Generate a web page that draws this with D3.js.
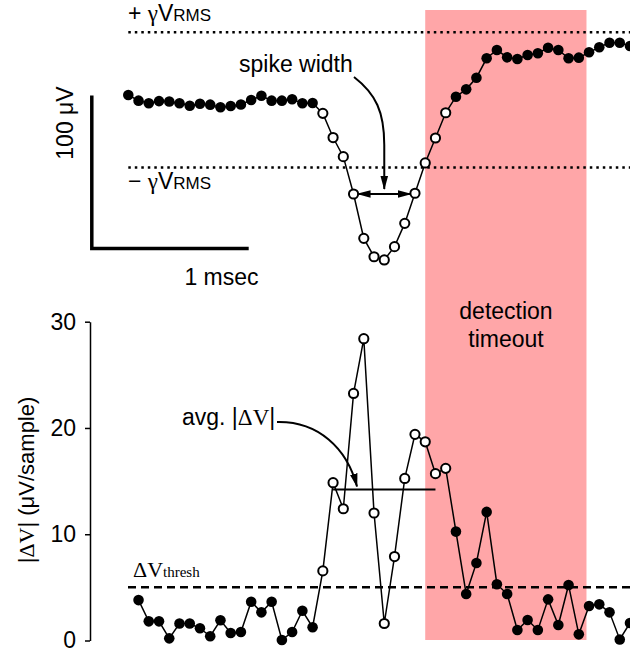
<html>
<head>
    <script src="https://d3js.org/d3.v7.min.js"></script>
    <style>
        body { margin: 0; background: white; }
        text { font-family: "Liberation Sans", Arial, sans-serif; fill: black; }
        .serif { font-family: "Liberation Serif", "Times New Roman", serif; }
    </style>
</head>
<body>
    <svg id="svg" width="630" height="650"></svg>
    <script>
        // raw trace (uV), one sample per point
        const voltage = [3.2, -0.5, -2.2, -0.8, -1.0, -2.2, -3.8, -2.5, -3.1, -4.8,
            -4.0, -3.0, -0.1, 2.7, -0.5, -0.5, 0.4, -2.2, -2.0, -8.8,
            -24.6, -37.1, -61.5, -90.5, -102.5, -104.6, -95.9, -80.7, -61.0, -41.2,
            -24.9, -8.4, 2.1, 6.9, 14.5, 27.2, 32.6, 27.8, 26.7, 29.3,
            30.5, 34.1, 32.6, 27.2, 27.6, 31.1, 34.4, 37.4, 37.4, 35.2];
        // |dV| per sample, starts at sample 1
        const deltaV = [3.8, 1.8, 1.8, 0.2, 1.6, 1.6, 1.15, 0.4, 1.9, 0.7,
            0.8, 3.65, 2.65, 3.65, 0.05, 0.8, 2.8, 1.25, 6.55, 14.85,
            12.4, 23.25, 28.4, 12.0, 1.6, 7.9, 15.25, 19.4, 18.7, 15.7,
            16.2, 10.25, 4.37, 7.3, 12.1, 5.3, 4.37, 0.99, 1.93, 0.99,
            3.87, 1.46, 5.22, 0.58, 3.25, 3.4, 2.65, 0.1, 1.65];
        const spikeSamples = [19, 31];     // open markers (sample index)
        const timeoutSamples = [29, 44.75]; // detection timeout
        const widthSamples = [22, 28];     // spike width arrow
        const avgSamples = [20, 30];
        const gammaVrms = 44.2;
        const dvThresh = 5;
        const avgDV = 14.2;
        const dvTicks = [0, 10, 20, 30];
        const samplesPerMs = 15.5;

        const svg = d3.select('#svg');
        const x = d3.scaleLinear().domain([0, 49]).range([128.3, 630]);
        const yTop = d3.scaleLinear().domain([0, 100]).range([99.9, -53.1]);
        const yBot = d3.scaleLinear().domain([0, 30]).range([640.5, 321.7]);
        const fs = "23px";

        const defs = svg.append("defs");
        defs.append("marker").attr("id", "head")
            .attr("markerUnits", "userSpaceOnUse")
            .attr("viewBox", "0 -5 14 10")
            .attr("refX", 13).attr("refY", 0)
            .attr("markerWidth", 14).attr("markerHeight", 10)
            .attr("orient", "auto-start-reverse")
            .append("path").attr("d", "M0,-3.8L14,0L0,3.8Z").style("fill", "black");

        // pink timeout band
        svg.append("rect")
            .attr("x", x(timeoutSamples[0]))
            .attr("y", 10)
            .attr("width", x(timeoutSamples[1]) - x(timeoutSamples[0]))
            .attr("height", 630)
            .style("fill", "#ffa6a8");

        svg.append("text").attr("x", 506).attr("y", 319).style("font-size", fs)
            .style("text-anchor", "middle").text("detection");
        svg.append("text").attr("x", 506).attr("y", 347).style("font-size", fs)
            .style("text-anchor", "middle").text("timeout");

        // threshold lines, top
        [gammaVrms, -gammaVrms].forEach(v => {
            svg.append("line")
                .attr("x1", x(0)).attr("x2", 630)
                .attr("y1", yTop(v)).attr("y2", yTop(v))
                .style("stroke", "black").style("stroke-width", 2.5)
                .style("stroke-dasharray", "2.5,4");
        });

        function vrmsLabel(sign, yy) {
            const t = svg.append("text").attr("x", 128).attr("y", yy).style("font-size", fs);
            t.append("tspan").text(sign + " ");
            t.append("tspan").attr("class", "serif").text("γ");
            t.append("tspan").text("V");
            t.append("tspan").style("font-size", "17px").text("RMS");
        }
        vrmsLabel("+", 21);
        vrmsLabel("−", 189);

        // scale bars
        const barBottom = 248.5;
        svg.append("path")
            .attr("d", `M91.8,${barBottom - (yTop(0) - yTop(100))}V${barBottom}H${90 + x(samplesPerMs) - x(0)}`)
            .style("fill", "none").style("stroke", "black").style("stroke-width", 3.5);
        svg.append("text").attr("transform", "translate(73,123) rotate(-90)")
            .style("font-size", fs).style("text-anchor", "middle").text("100 μV");
        svg.append("text").attr("x", 221.5).attr("y", 285)
            .style("font-size", fs).style("text-anchor", "middle").text("1 msec");

        // top trace
        const topPts = voltage.map((v, i) => ({ i: i, v: v }));
        svg.append("path").datum(topPts)
            .attr("d", d3.line().x(d => x(d.i)).y(d => yTop(d.v)))
            .style("fill", "none").style("stroke", "black").style("stroke-width", 1.5);

        const isOpen = i => i >= spikeSamples[0] && i <= spikeSamples[1];
        function drawDots(data, yScale) {
            svg.append("g").selectAll("circle").data(data)
                .join("circle")
                .attr("cx", d => x(d.i))
                .attr("cy", d => yScale(d.v))
                .attr("r", d => isOpen(d.i) ? 4.6 : 5.3)
                .style("fill", d => isOpen(d.i) ? "white" : "black")
                .style("stroke", "black")
                .style("stroke-width", d => isOpen(d.i) ? 2 : 0);
        }

        // spike width arrows
        const wy = yTop(voltage[widthSamples[0]]);
        svg.append("line")
            .attr("x1", x(widthSamples[0]) + 4).attr("x2", x(widthSamples[1]) - 4)
            .attr("y1", wy).attr("y2", wy)
            .attr("marker-start", "url(#head)").attr("marker-end", "url(#head)")
            .style("stroke", "black").style("stroke-width", 2);
        const wx = (x(widthSamples[0]) + x(widthSamples[1])) / 2;
        svg.append("path")
            .attr("d", `M354,77C376,94 ${wx},112 ${wx},145V${wy - 5}`)
            .attr("marker-end", "url(#head)")
            .style("fill", "none").style("stroke", "black").style("stroke-width", 2);
        svg.append("text").attr("x", 239).attr("y", 72).style("font-size", fs).text("spike width");

        drawDots(topPts, yTop);

        // bottom panel
        svg.append("g").attr("transform", "translate(90,0)")
            .call(d3.axisLeft(yBot).tickValues(dvTicks).tickSize(5).tickSizeOuter(0).tickPadding(9))
            .call(g => g.selectAll("path, line").style("stroke", "black").style("stroke-width", 1.5))
            .call(g => g.selectAll("text").style("font-size", fs)
                .style("font-family", "'Liberation Sans', Arial, sans-serif"));

        const yl = svg.append("text").attr("transform", "translate(34,480) rotate(-90)")
            .style("font-size", "22px").style("text-anchor", "middle");
        yl.append("tspan").text("|");
        yl.append("tspan").attr("class", "serif").text("ΔV");
        yl.append("tspan").text("| (μV/sample)");

        svg.append("line")
            .attr("x1", 128).attr("x2", 630)
            .attr("y1", yBot(dvThresh)).attr("y2", yBot(dvThresh))
            .style("stroke", "black").style("stroke-width", 2.5)
            .style("stroke-dasharray", "8,5");
        const th = svg.append("text").attr("class", "serif").attr("x", 133).attr("y", 577)
            .style("font-size", "22px");
        th.append("tspan").text("ΔV");
        th.append("tspan").style("font-size", "15px").text("thresh");

        const botPts = deltaV.map((v, i) => ({ i: i + 1, v: v }));
        svg.append("path").datum(botPts)
            .attr("d", d3.line().x(d => x(d.i)).y(d => yBot(d.v)))
            .style("fill", "none").style("stroke", "black").style("stroke-width", 1.5);

        svg.append("line")
            .attr("x1", x(avgSamples[0])).attr("x2", x(avgSamples[1]))
            .attr("y1", yBot(avgDV)).attr("y2", yBot(avgDV))
            .style("stroke", "black").style("stroke-width", 2);

        svg.append("path")
            .attr("d", `M277,422C318,421 347,448 357,${yBot(avgDV) - 3}`)
            .attr("marker-end", "url(#head)")
            .style("fill", "none").style("stroke", "black").style("stroke-width", 2);
        const av = svg.append("text").attr("x", 182).attr("y", 425).style("font-size", fs);
        av.append("tspan").text("avg. |");
        av.append("tspan").attr("class", "serif").text("ΔV");
        av.append("tspan").text("|");

        drawDots(botPts, yBot);
    </script>
</body>
</html>
